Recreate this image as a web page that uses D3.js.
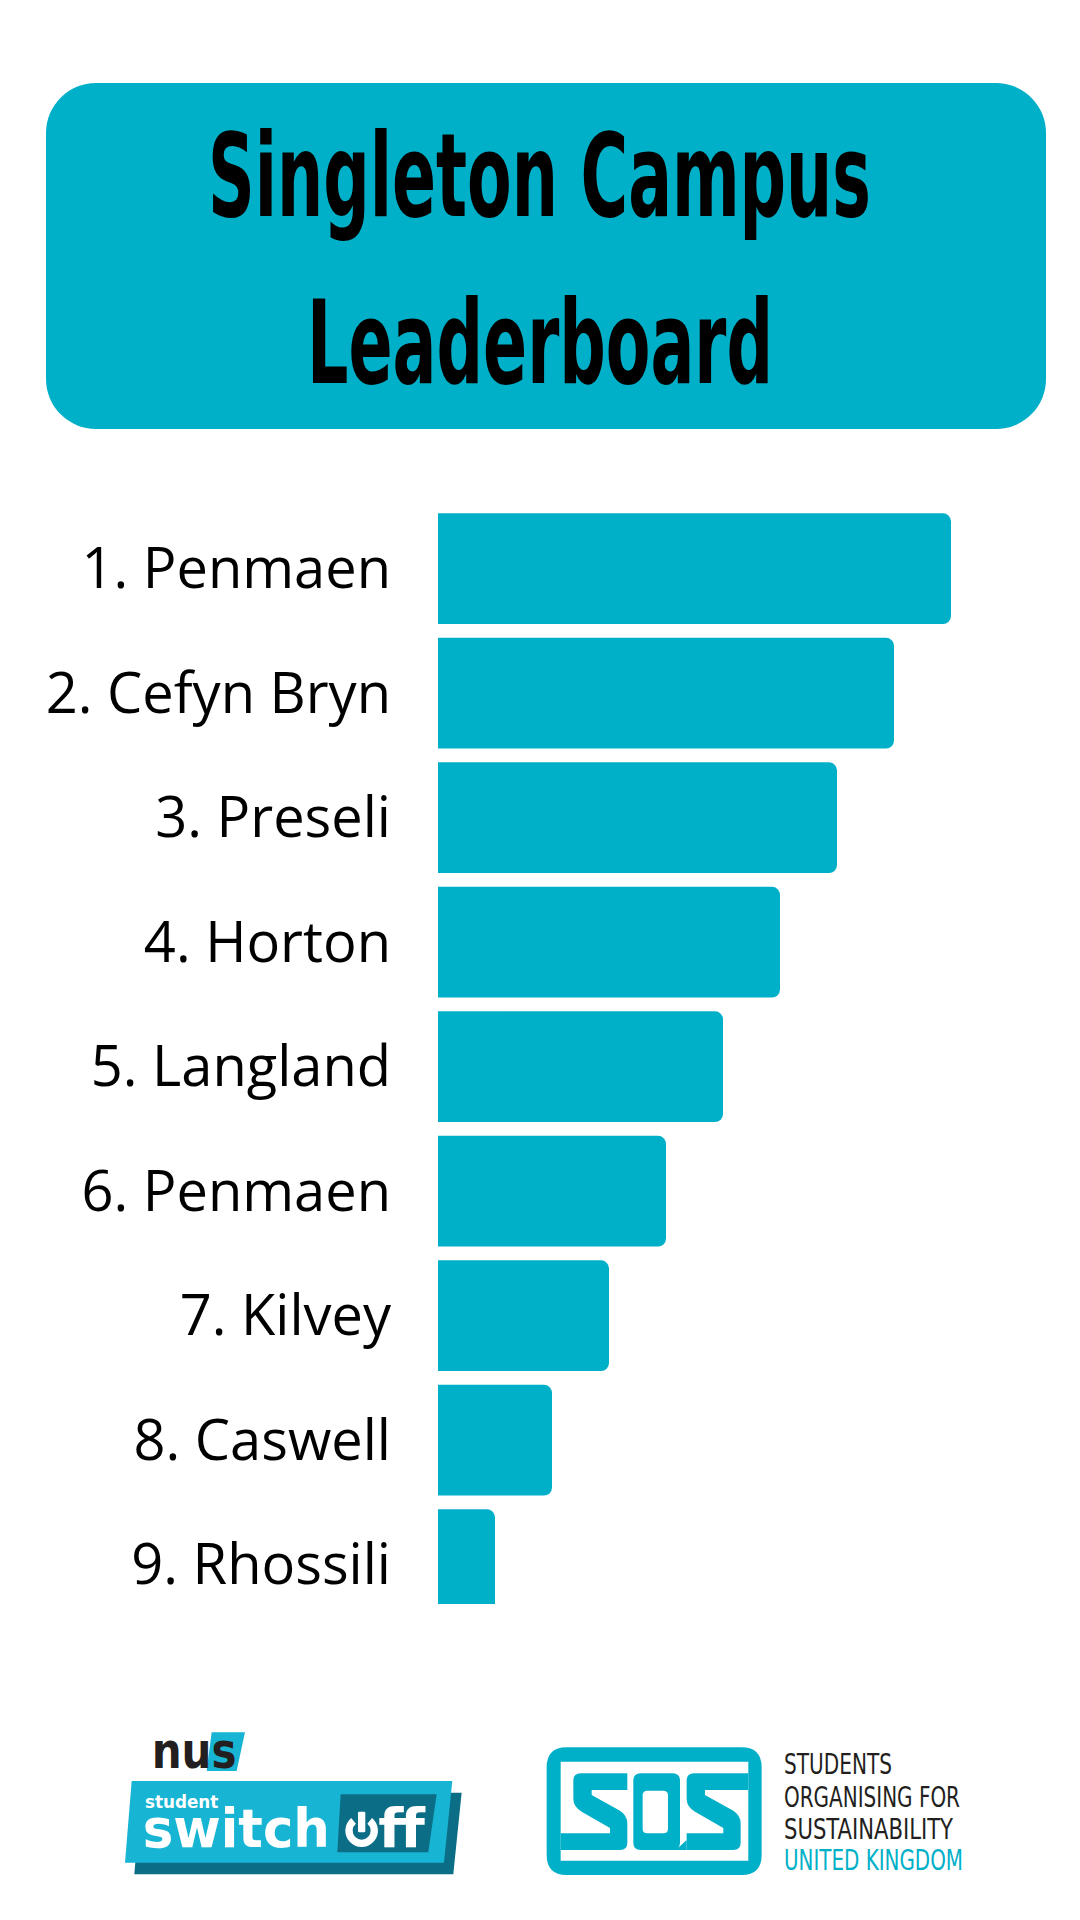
<!DOCTYPE html>
<html>
<head>
<meta charset="utf-8">
<script src="https://cdn.jsdelivr.net/npm/d3@7"></script>
<style>
  html, body { margin: 0; padding: 0; background: #ffffff; }
  svg { display: block; }
</style>
</head>
<body>
<div id="chart"></div>
<script>
// ---------- data ----------
const ranks = [1, 2, 3, 4, 5, 6, 7, 8, 9];
const halls = ["Penmaen", "Cefyn Bryn", "Preseli", "Horton", "Langland", "Penmaen", "Kilvey", "Caswell", "Rhossili"];
const scores = [9, 8, 7, 6, 5, 4, 3, 2, 1];
const titleLines = ["Singleton Campus", "Leaderboard"];
const sosLines = ["STUDENTS", "ORGANISING FOR", "SUSTAINABILITY", "UNITED KINGDOM"];

// ---------- setup ----------
const W = 1080, H = 1920;
const TEAL = "#00B0C8";
const svg = d3.select("#chart").append("svg").attr("width", W).attr("height", H);
svg.append("rect").attr("width", W).attr("height", H).attr("fill", "#fff");

// ---------- title box ----------
svg.append("rect")
  .attr("x", 46).attr("y", 83).attr("width", 1000).attr("height", 346)
  .attr("rx", 50).attr("ry", 50).attr("fill", TEAL);

const titleFont = "'Liberation Sans Narrow', 'DejaVu Sans Condensed', 'Liberation Sans', sans-serif";
const titleSpecs = [{ y: 216, len: 663, cx: 539.5 }, { y: 383, len: 466, cx: 540 }];
const CAP = 84;
titleLines.forEach((t, i) => {
  const g = svg.append("g");
  const txt = g.append("text")
    .attr("x", 0).attr("y", 0)
    .attr("text-anchor", "middle")
    .attr("font-family", titleFont)
    .attr("font-weight", "bold")
    .attr("font-size", 100)
    .attr("fill", "#000")
    .text(t);
  const w = txt.node().getComputedTextLength();
  const fs = 100 * titleSpecs[i].len / w;
  txt.attr("font-size", fs);
  const sy = CAP / (0.72 * fs);
  g.attr("transform", `translate(${titleSpecs[i].cx},${titleSpecs[i].y}) scale(1,${sy})`);
});

// ---------- bars ----------
const idx = d3.range(halls.length);
const y = d3.scaleBand().domain(idx).range([506.4, 506.4 + 9 * 124.5]).paddingInner(0.111).paddingOuter(0.0555);
const x = d3.scaleLinear().domain([0, 9]).range([438, 951]);

svg.append("clipPath").attr("id", "plotClip")
  .append("rect").attr("x", 0).attr("y", 0).attr("width", W).attr("height", 1604);

function barPath(x0, x1, y0, h, r) {
  r = Math.min(r, (x1 - x0) / 2, h / 2);
  return `M${x0},${y0} H${x1 - r} A${r},${r} 0 0 1 ${x1},${y0 + r} V${y0 + h - r} A${r},${r} 0 0 1 ${x1 - r},${y0 + h} H${x0} Z`;
}

svg.append("g").attr("clip-path", "url(#plotClip)")
  .selectAll("path").data(idx).join("path")
  .attr("d", i => barPath(x(0), x(scores[i]), y(i), y.bandwidth(), 8))
  .attr("fill", TEAL);

svg.append("g").selectAll("text").data(idx).join("text")
  .attr("x", 391)
  .attr("y", i => y(i) + y.bandwidth() / 2 + 19.5)
  .attr("text-anchor", "end")
  .attr("font-family", "'Open Sans', 'Noto Sans', sans-serif")
  .attr("font-size", 56)
  .attr("fill", "#000")
  .text(i => `${ranks[i]}. ${halls[i]}`);

// ---------- NUS student switch off logo ----------
const nus = svg.append("g").attr("transform", "translate(100,1700) scale(0.3333)");
const NUS_TEAL = "#17B5D3", NUS_DARK = "#0B6E86";
nus.append("polygon").attr("points", "123,278 1085,278 1060,523 103,523").attr("fill", NUS_DARK);
nus.append("polygon").attr("points", "95,243 1057,243 1032,488 75,488").attr("fill", NUS_TEAL);
nus.append("polygon").attr("points", "335,97 435,97 410,213 320,213").attr("fill", NUS_TEAL);
nus.append("text").attr("x", 155).attr("y", 203)
  .attr("font-family", "'DejaVu Sans', sans-serif").attr("font-weight", "bold")
  .attr("font-size", 150).attr("textLength", 255).attr("lengthAdjust", "spacingAndGlyphs")
  .attr("fill", "#231F20").text("nus");
nus.append("text").attr("x", 135).attr("y", 324)
  .attr("font-family", "'DejaVu Sans', sans-serif").attr("font-weight", "bold")
  .attr("font-size", 54).attr("textLength", 220).attr("lengthAdjust", "spacingAndGlyphs")
  .attr("fill", "#fff").text("student");
nus.append("text").attr("x", 128).attr("y", 440)
  .attr("font-family", "'DejaVu Sans', sans-serif").attr("font-weight", "bold")
  .attr("font-size", 160).attr("textLength", 562).attr("lengthAdjust", "spacingAndGlyphs")
  .attr("fill", "#fff").text("switch");
nus.append("polygon").attr("points", "722,283 1010,283 985,457 712,457").attr("fill", NUS_DARK);
// power icon
const pcx = 785, pcy = 392, pr = 38;
const arc = d3.arc().innerRadius(pr - 11).outerRadius(pr + 11).startAngle(Math.PI * 0.22).endAngle(Math.PI * 1.78);
nus.append("path").attr("d", arc()).attr("transform", `translate(${pcx},${pcy})`).attr("fill", "#fff");
nus.append("rect").attr("x", pcx - 11).attr("y", 335).attr("width", 22).attr("height", 62).attr("rx", 4).attr("fill", "#fff");
nus.append("text").attr("x", 835).attr("y", 440)
  .attr("font-family", "'DejaVu Sans', sans-serif").attr("font-weight", "bold")
  .attr("font-size", 160).attr("textLength", 140).attr("lengthAdjust", "spacingAndGlyphs")
  .attr("fill", "#fff").text("ff");

// ---------- SOS logo ----------
const sos = svg.append("g").attr("transform", "translate(540,1740) scale(0.3333)");
const SOS_TEAL = "#00B0C8";
sos.append("path")
  .attr("fill-rule", "evenodd")
  .attr("d", "M80,22 H605 Q665,22 665,82 V345 Q665,405 605,405 H80 Q20,405 20,345 V82 Q20,22 80,22 Z " +
             "M62,65 V362 H625 V65 Z")
  .attr("fill", SOS_TEAL);
sos.append("path")
  .attr("d", "M100,122 Q100,100 122,100 L262,100 L262,150 L155,150 L155,165 L240,212 Q262,226 262,250 L262,308 Q262,330 240,330 L62,330 L62,280 L210,280 L210,264 L125,215 Q100,200 100,176 Z")
  .attr("fill", SOS_TEAL);
sos.append("path")
  .attr("fill-rule", "evenodd")
  .attr("d", "M302,100 H398 Q420,100 420,122 V308 Q420,318 414,324 L440,300 L440,330 H302 Q280,330 280,308 V122 Q280,100 302,100 Z " +
             "M322,152 Q308,152 308,166 V266 Q308,280 322,280 H370 Q384,280 384,266 V166 Q384,152 370,152 Z")
  .attr("fill", SOS_TEAL);
sos.append("path")
  .attr("d", "M440,122 Q440,100 462,100 L625,100 L625,150 L495,150 L495,165 L580,212 Q602,226 602,250 L602,308 Q602,330 580,330 L440,330 L440,280 L550,280 L550,264 L465,215 Q440,200 440,176 Z")
  .attr("fill", SOS_TEAL);

const sosSpecs = [
  { y: 1774, len: 108, fill: "#231F20" },
  { y: 1806.5, len: 176, fill: "#231F20" },
  { y: 1838.5, len: 169, fill: "#231F20" },
  { y: 1870, len: 179, fill: SOS_TEAL }
];
sosLines.forEach((t, i) => {
  svg.append("text")
    .attr("x", 784).attr("y", sosSpecs[i].y)
    .attr("font-family", "'DejaVu Sans Condensed', 'Liberation Sans Narrow', sans-serif")
    .attr("font-weight", "normal")
    .attr("font-size", 28)
    .attr("textLength", sosSpecs[i].len)
    .attr("lengthAdjust", "spacingAndGlyphs")
    .attr("fill", sosSpecs[i].fill)
    .text(t);
});
</script>
</body>
</html>
